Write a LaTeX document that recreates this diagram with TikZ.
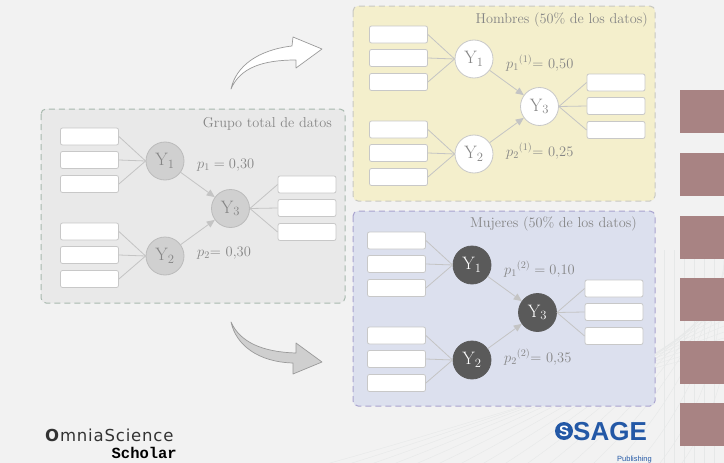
\documentclass[tikz,border=0pt]{standalone}
\usepackage{fix-cm}
\usepackage{fontspec}
\usetikzlibrary{arrows.meta,calc}
\newfontfamily\dejavu[LetterSpace=5]{DejaVu Sans}
\newfontfamily\libmono{Liberation Mono}
\newfontfamily\libsans{Liberation Sans}
\definecolor{bg}{HTML}{F2F2F2}
\definecolor{greyfill}{HTML}{E9E9E9}
\definecolor{greyborder}{HTML}{A8B9AE}
\definecolor{yelfill}{HTML}{F4EFCC}
\definecolor{yelborder}{HTML}{C8C8C2}
\definecolor{bluefill}{HTML}{DCE0EE}
\definecolor{blueborder}{HTML}{A9A3CF}
\definecolor{boxborder}{HTML}{C8C8C8}
\definecolor{linecol}{HTML}{C4C4C4}
\definecolor{txt}{HTML}{858585}
\definecolor{lightcirc}{HTML}{D0D0D0}
\definecolor{darkcirc}{HTML}{5A5A5A}
\definecolor{maroon}{HTML}{A88383}
\definecolor{sageblue}{HTML}{2358A6}
\definecolor{texture}{HTML}{E6E8E8}
\definecolor{arrowline}{HTML}{9A9A9A}
\definecolor{arrowgrey}{HTML}{CFCFCF}
\tikzset{
  slot/.style={draw=boxborder, fill=white, rounded corners=2pt, minimum width=58pt,
    minimum height=17pt, inner sep=0pt, line width=0.8pt},
  circbase/.style={circle, minimum size=38pt, inner sep=0pt, line width=0.8pt,
    font=\fontsize{18}{18}\selectfont},
  lightc/.style={circbase, draw=lightcirc!90!black, fill=lightcirc, text=txt},
  whitec/.style={circbase, draw=boxborder, fill=white, text=txt},
  darkc/.style={circbase, draw=darkcirc, fill=darkcirc, text=white},
  conn/.style={draw=linecol, line width=0.8pt},
  flow/.style={conn, -{Triangle[length=8pt,width=7pt]}},
  plabel/.style={anchor=west, text=txt, inner sep=0pt, font=\fontsize{14.5}{14.5}\selectfont},
  ptitle/.style={anchor=east, text=txt, inner sep=0pt, font=\fontsize{14.3}{14.3}\selectfont},
  panel/.style={rounded corners=5pt, line width=1pt, dash pattern=on 6pt off 4pt},
  bigarrow/.style={draw=arrowline, line width=0.7pt, line join=round},
}
% #1 prefix, #2/#3 position of Y1, #4 circle style, #5/#6 labels
\newcommand\flowpanel[6]{%
 \begin{scope}[shift={(#2,#3)}]
  \node[#4] (#1Y1) at (0,0) {$\mathrm{Y}_1$};
  \node[#4] (#1Y2) at (0,95) {$\mathrm{Y}_2$};
  \node[#4] (#1Y3) at (65.5,47.5) {$\mathrm{Y}_3$};
  \foreach \i/\dy/\dr in {a/-24.5/-24,b/-1/-0.5,c/23/23.5}{
    \node[slot] (#1L\i) at (-75.5,\dy) {};
    \draw[conn] (#1L\i.east) -- (#1Y1.west);
    \node[slot] (#1M\i) at (-75.5,{95+\dy}) {};
    \draw[conn] (#1M\i.east) -- (#1Y2.west);
    \node[slot] (#1R\i) at (142,{47.5+\dr}) {};
    \draw[conn] (#1Y3.east) -- (#1R\i.west);
  }
  \draw[flow] (#1Y1) -- (#1Y3);
  \draw[flow] (#1Y2) -- (#1Y3);
  \node[plabel] (#1P1) at (32,4) {#5};
  \node[plabel] (#1P2) at (32,92) {#6};
 \end{scope}}
\begin{document}
\begin{tikzpicture}[x=1pt,y=-1pt]
\useasboundingbox (0,0) rectangle (724,463);
\fill[bg] (0,0) rectangle (724,463);
% faint background texture
\foreach \k in {0,...,16}{
  \draw[texture, line width=0.4pt] ({330+\k*22},463) .. controls ({450+\k*18},{430-\k*3}) and ({600+\k*8},{380-\k*4}) .. (724,{350-\k*6});
}
\foreach \k in {0,...,5}{
  \draw[texture, line width=0.4pt] ({664+\k*10},250) -- ({664+\k*10},463);
}
% maroon squares
\foreach \yy in {90,153,216,278,341,403}{
  \fill[maroon] (680,\yy) rectangle (724,{\yy+43});
}
% panels
\draw[panel, fill=greyfill, draw=greyborder] (41,109) rectangle (345,303);
\draw[panel, fill=yelfill, draw=yelborder] (353,6) rectangle (655,201);
\draw[panel, fill=bluefill, draw=blueborder] (353,211) rectangle (655,406);
\node[ptitle] (tg) at (332,124) {Grupo total de datos};
\node[ptitle] (th) at (648,20) {Hombres (50\% de los datos)};
\node[ptitle] (tm) at (637,224) {Mujeres (50\% de los datos)};
\flowpanel{g}{165}{161}{lightc}{$p_1 = 0{,}30$}{$p_2{=}\ 0{,}30$}
\flowpanel{h}{474}{59}{whitec}{$p_1{}^{(1)}{=}\ 0{,}50$}{$p_2{}^{(1)}{=}\ 0{,}25$}
\flowpanel{m}{472}{265}{darkc}{$p_1{}^{(2)} = 0{,}10$}{$p_2{}^{(2)}{=}\ 0{,}35$}
% curved block arrows
\draw[bigarrow, fill=white] (231,89) .. controls (236,66) and (258,50) .. (292,46)
  -- (293,37) -- (322,49) -- (296,68) -- (296,60)
  .. controls (262,60) and (240,68) .. (231,89) -- cycle;
\draw[bigarrow, fill=arrowgrey] (231,322) .. controls (240,342) and (262,352) .. (296,353)
  -- (296,343) -- (322,362) -- (293,374) -- (293,363)
  .. controls (258,362) and (236,345) .. (231,322) -- cycle;
% logos
\node[anchor=west, inner sep=0pt, text=black!80, font=\dejavu\fontsize{16.5}{16.5}\selectfont] (omnia) at (45,435) {\textbf{O}mniaScience};
\node[anchor=east, inner sep=0pt, text=black, font=\libmono\bfseries\fontsize{15.5}{15.5}\selectfont] (scholar) at (177,453) {Scholar};
\node[circle, fill=sageblue, minimum size=18pt, inner sep=0pt, text=white, font=\libsans\bfseries\fontsize{15}{15}\selectfont] (sagec) at (564,431) {S};
\node[anchor=west, inner sep=0pt, text=sageblue, font=\libsans\bfseries\fontsize{26}{26}\selectfont] (sage) at (573,431.5) {SAGE};
\node[anchor=east, inner sep=0pt, text=sageblue, font=\libsans\fontsize{7.5}{7.5}\selectfont] (pub) at (652,460) {Publishing};
\end{tikzpicture}
\end{document}
